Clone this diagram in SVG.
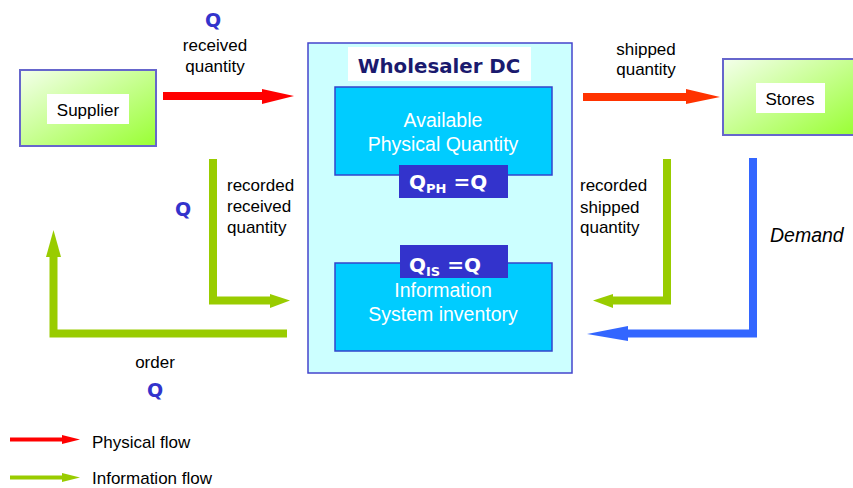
<svg xmlns="http://www.w3.org/2000/svg" width="853" height="488" viewBox="0 0 853 488">
<defs>
<linearGradient id="lg" x1="0" y1="0" x2="1" y2="1">
<stop offset="0" stop-color="#f4ffec"/>
<stop offset="1" stop-color="#99ff33"/>
</linearGradient>
</defs>
<style>
.t{font-family:"Liberation Sans",Arial,sans-serif;font-size:17px;fill:#000}
.c{text-anchor:middle}
.q{font-family:"DejaVu Sans",Verdana,sans-serif;font-weight:bold;font-size:19px;fill:#3333cc}
.w{font-family:"Liberation Sans",Arial,sans-serif;font-size:19.5px;fill:#fff;text-anchor:middle}
.qb{font-family:"DejaVu Sans",Verdana,sans-serif;font-weight:bold;font-size:20px;fill:#fff}
.node{fill:url(#lg);stroke:#6666cc;stroke-width:2}
.inner{fill:#00ccff;stroke:#3344cc;stroke-width:1.5}
.g{fill:none;stroke:#99cc00;stroke-width:8;stroke-linejoin:miter}
.gh{fill:#99cc00}
.b{fill:none;stroke:#3366ff;stroke-width:8}
</style>
<rect width="853" height="488" fill="#fff"/>
<g id="supplier">
<rect class="node" x="20" y="70" width="136" height="76"/>
<rect x="47" y="94" width="82" height="30" fill="#fff"/>
<text class="t c" x="88" y="116">Supplier</text>
</g>
<g id="stores">
<rect class="node" x="723" y="59" width="132" height="76"/>
<rect x="756" y="83" width="69" height="30" fill="#fff"/>
<text class="t c" x="790" y="105">Stores</text>
</g>
<g id="wholesaler">
<rect x="308" y="43" width="264" height="330" fill="#ccffff" stroke="#4444cc" stroke-width="1.5"/>
<rect x="348" y="47" width="183" height="34" fill="#fff"/>
<text x="439" y="73" text-anchor="middle" style="font-family:'DejaVu Sans',Verdana,sans-serif;font-weight:bold;font-size:19.8px;fill:#1a1a6e">Wholesaler DC</text>
</g>
<g id="physical">
<rect class="inner" x="335" y="87" width="217" height="88"/>
<text class="w" x="443" y="127">Available</text>
<text class="w" x="443" y="151">Physical Quantity</text>
</g>
<g id="qph">
<rect x="399" y="165" width="109" height="33" fill="#3333cc"/>
<text class="qb" x="409" y="189">Q<tspan font-size="13" dy="4">PH</tspan><tspan dy="-4"> =Q</tspan></text>
</g>
<g id="infosys">
<rect class="inner" x="335" y="263" width="217" height="88"/>
<text class="w" x="443" y="297">Information</text>
<text class="w" x="443" y="321">System inventory</text>
</g>
<g id="qis">
<rect x="400" y="245" width="108" height="33" fill="#3333cc"/>
<text class="qb" x="409" y="272">Q<tspan font-size="13" dy="4">IS</tspan><tspan dy="-4"> =Q</tspan></text>
</g>
<g id="connectors">
<rect x="163" y="92" width="101" height="8" fill="#ff0000"/>
<polygon points="262,89 294,96 262,104" fill="#ff0000"/>
<rect x="583" y="93" width="105" height="8" fill="#ff3300"/>
<polygon points="686,89 720,97 686,104" fill="#ff3300"/>
<path class="g" d="M213,159 V300.5 H272"/>
<polygon class="gh" points="270,294 290,300.5 270,308"/>
<path class="g" d="M287,333.5 H53.5 V255"/>
<polygon class="gh" points="46,257 53.5,230 61,257"/>
<path class="g" d="M667,159 V300.5 H611"/>
<polygon class="gh" points="613,294 593,300.5 613,308"/>
<path class="b" d="M753,158 V333.5 H626"/>
<polygon fill="#3366ff" points="628,326 587,334 628,341"/>
<line x1="10" y1="439.5" x2="64" y2="439.5" stroke="#ff0000" stroke-width="4"/>
<polygon points="62,435 80,439.5 62,444" fill="#ff0000"/>
<line x1="10" y1="477.5" x2="64" y2="477.5" stroke="#99cc00" stroke-width="4"/>
<polygon points="62,473 80,477.5 62,482" fill="#99cc00"/>
</g>
<g id="labels">
<text class="q c" x="213" y="27">Q</text>
<text class="t c" x="215" y="51">received</text>
<text class="t c" x="215" y="72">quantity</text>
<text class="t c" x="646" y="55">shipped</text>
<text class="t c" x="646" y="75">quantity</text>
<text class="q c" x="183" y="216">Q</text>
<text class="t" x="227" y="191">recorded</text>
<text class="t" x="227" y="212">received</text>
<text class="t" x="227" y="233">quantity</text>
<text class="t" x="580" y="191">recorded</text>
<text class="t" x="580" y="213">shipped</text>
<text class="t" x="580" y="233">quantity</text>
<text class="t" x="770" y="242" style="font-style:italic;font-size:19.5px">Demand</text>
<text class="t c" x="155" y="368">order</text>
<text class="q c" x="155" y="397">Q</text>
<text class="t" x="92" y="448">Physical flow</text>
<text class="t" x="92" y="484">Information flow</text>
</g>
</svg>
